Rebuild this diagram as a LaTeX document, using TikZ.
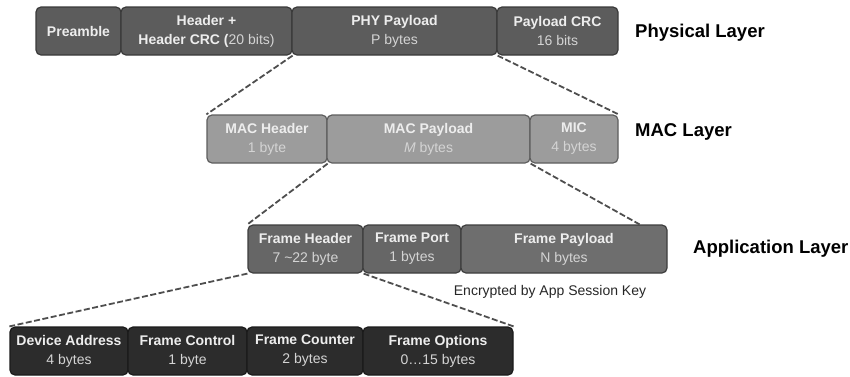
\documentclass[tikz,border=0pt]{standalone}
\usepackage{fontspec}
\setmainfont{Liberation Sans}
\usetikzlibrary{calc}
\definecolor{physfill}{HTML}{5C5C5C}
\definecolor{physdraw}{HTML}{3A3A3A}
\definecolor{macfill}{HTML}{9C9C9C}
\definecolor{macdraw}{HTML}{5E5E5E}
\definecolor{appfill}{HTML}{666666}
\definecolor{appfillb}{HTML}{6E6E6E}
\definecolor{appdraw}{HTML}{3E3E3E}
\definecolor{fhfill}{HTML}{2C2C2C}
\definecolor{fhdraw}{HTML}{1A1A1A}
\definecolor{titletext}{HTML}{EDEDED}
\definecolor{subtext}{HTML}{D4D4D4}
\definecolor{linkgray}{HTML}{4E4E4E}
\begin{document}
\begin{tikzpicture}[x=1pt,y=-1pt,
  field/.style={rounded corners=5pt, line width=1.2pt, minimum height=48pt,
    inner sep=0pt, align=center, text=titletext,
    font=\fontsize{14}{19}\selectfont},
  phys/.style={field, fill=physfill, draw=physdraw},
  mac/.style={field, fill=macfill, draw=macdraw},
  app/.style={field, fill=appfill, draw=appdraw},
  appb/.style={field, fill=appfillb, draw=appdraw},
  fh/.style={field, fill=fhfill, draw=fhdraw},
  layer/.style={font=\fontsize{18.5}{22}\selectfont\bfseries, anchor=west, inner sep=0pt},
  link/.style={draw=linkgray, line width=1.8pt, dash pattern=on 6pt off 2.5pt}
]
\useasboundingbox (0,0) rectangle (850,376);
\newcommand{\sub}[1]{{\color{subtext}#1}}

% Physical layer
\node[phys, minimum width=85pt]  (pre)  at (78.5,31)  {\textbf{Preamble}};
\node[phys, minimum width=171pt] (hdr)  at (206.5,31) {\textbf{Header +}\\\textbf{Header CRC (}\sub{20 bits)}};
\node[phys, minimum width=205pt] (phy)  at (394.5,31) {\textbf{PHY Payload}\\\sub{P bytes}};
\node[phys, minimum width=121pt] (pcrc) at (557.5,31) {\textbf{Payload CRC}\\\sub{16 bits}};
\node[layer] (lphy) at (635,33) {Physical Layer};

% MAC layer
\node[mac, minimum width=120pt] (mhdr) at (267,139)   {\textbf{MAC Header}\\\sub{1 byte}};
\node[mac, minimum width=203pt] (mpay) at (428.5,139) {\textbf{MAC Payload}\\\sub{\textit{M} bytes}};
\node[mac, minimum width=88pt]  (mic)  at (574,139)   {\textbf{MIC}\\\sub{4 bytes}};
\node[layer] (lmac) at (635,132) {MAC Layer};

% Application layer
\node[app,  minimum width=115pt] (fhdr)  at (305.5,249) {\textbf{Frame Header}\\\sub{7 \textasciitilde22 byte}};
\node[app,  minimum width=98pt]  (fport) at (412,249)   {\textbf{Frame Port}\\\sub{1 bytes}};
\node[appb, minimum width=206pt] (fpay)  at (564,249)   {\textbf{Frame Payload}\\\sub{N bytes}};
\node[layer] (lapp) at (693,249) {Application Layer};

% Frame header fields
\node[fh, minimum width=118pt] (dev)  at (69,351)  {\textbf{Device Address}\\\sub{4 bytes}};
\node[fh, minimum width=119pt] (fctl) at (187.5,351) {\textbf{Frame Control}\\\sub{1 byte}};
\node[fh, minimum width=116pt] (fcnt) at (305,351) {\textbf{Frame Counter}\\\sub{2 bytes}};
\node[fh, minimum width=150pt] (fopt) at (438,351) {\textbf{Frame Options}\\\sub{0\ldots15 bytes}};

% Expansion lines between layers
\coordinate (fpayend) at ($(fpay.north east)+(-28,0)$);
\draw[link] (hdr.south east) -- (mhdr.north west);
\draw[link] (phy.south east) -- (mic.north east);
\draw[link] (mhdr.south east) -- (fhdr.north west);
\draw[link] (mpay.south east) -- (fpayend);
\draw[link] (fhdr.south west) -- (dev.north west);
\draw[link] (fhdr.south east) -- (fopt.north east);

\node[font=\fontsize{14}{16}\selectfont, text=black!85, inner sep=1pt] (enc) at (550,292) {Encrypted by App Session Key};
\end{tikzpicture}
\end{document}
